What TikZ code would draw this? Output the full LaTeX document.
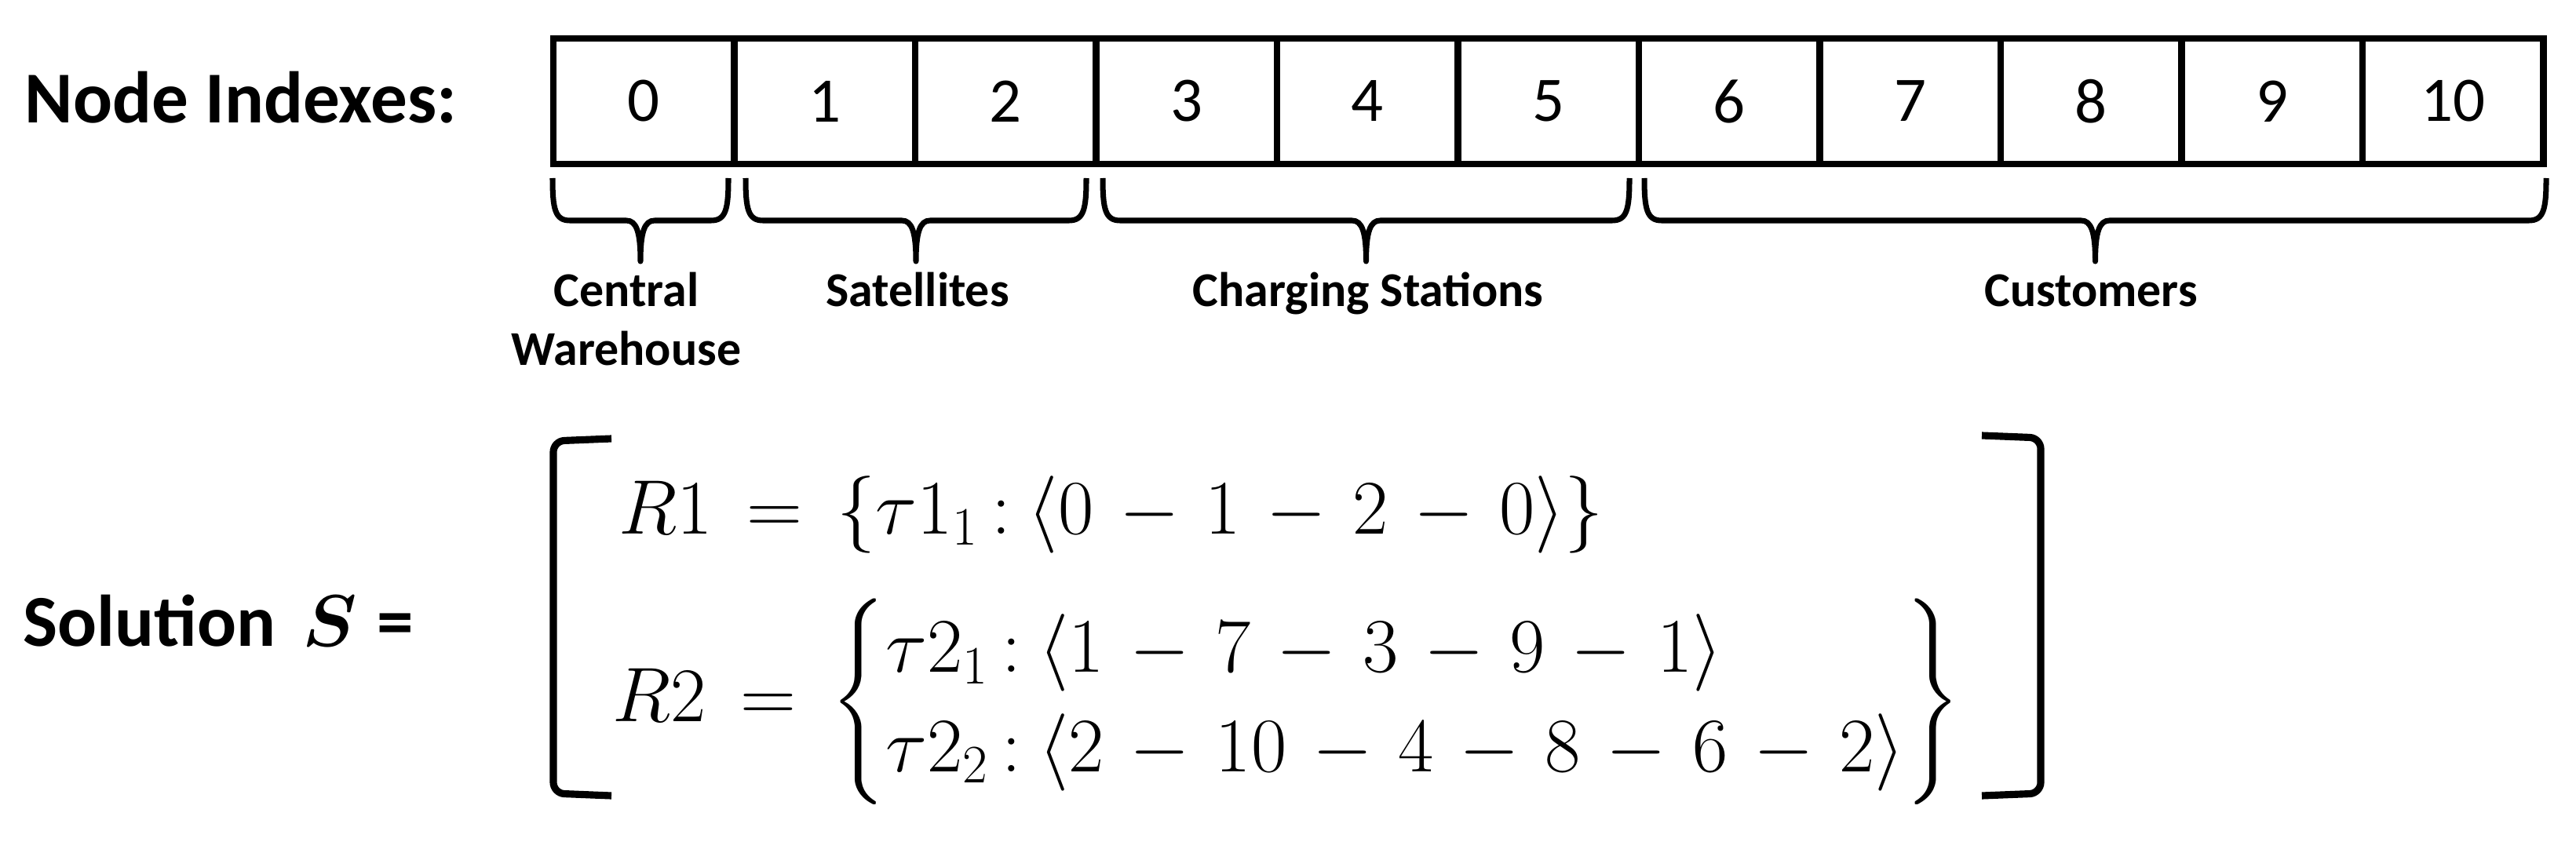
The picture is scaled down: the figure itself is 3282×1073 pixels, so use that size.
\documentclass[tikz,border=0pt]{standalone}
\usepackage{fix-cm}
\usepackage{amsmath}
\usepackage[no-math]{fontspec}
\setmainfont{Carlito}
\usetikzlibrary{positioning}

\begin{document}
\begin{tikzpicture}[
  x=0.01cm, y=-0.01cm,
  cell/.style={draw, line width=2.4pt, inner sep=0pt,
               minimum width=2.305cm, minimum height=1.6cm,
               font=\fontsize{23}{28}\selectfont},
  head/.style={inner sep=0pt, font=\bfseries\fontsize{26.5}{32}\selectfont},
  grp/.style={inner sep=0pt, align=center,
              font=\bfseries\fontsize{17.6}{21.3}\selectfont},
  route/.style={inner sep=0pt,
                font={\fontsize{28}{36}\selectfont\medmuskip=6mu\relax\thickmuskip=8mu\relax}},
  brc/.style={line width=2pt, line join=round},
  brk/.style={line width=2.6pt, rounded corners=4pt}
]
  \useasboundingbox (0,0) rectangle (3282,1073);

  %% Node index array
  \node[head, anchor=base west] (idx) at (31,157) {Node Indexes:};
  \foreach \i in {0,...,10}
    \node[cell] (c\i) at ({705+(\i+0.5)*230.5},129) {\i};

  %% Braces under the groups
  \foreach \xa/\xb in {704/928, 950/1384, 1405/2076, 2095/3244} {
    \pgfmathsetmacro\xm{(\xa+\xb)/2}
    \draw[brc] (\xa,227) .. controls (\xa,266) and (\xa+3,281) .. (\xa+22,281)
      -- (\xm-18,281) .. controls (\xm-5,281) and (\xm,296) .. (\xm,333)
      .. controls (\xm,296) and (\xm+5,281) .. (\xm+18,281)
      -- (\xb-22,281) .. controls (\xb-3,281) and (\xb,266) .. (\xb,227);
  }

  %% Group labels
  \node[grp, anchor=north] (wh)   at (798,346)  {Central\\Warehouse};
  \node[grp, anchor=base]  (sat)  at (1169,390) {Satellites};
  \node[grp, anchor=base]  (chg)  at (1743,390) {Charging Stations};
  \node[grp, anchor=base]  (cust) at (2664,390) {Customers};

  %% Solution
  \node[head, anchor=base west] (sol) at (29,823)
    {Solution\hspace{0.37em}$\boldsymbol{S}$\hspace{0.27em}=};
  \draw[brk] (779,559) -- (705,562) -- (705,1011) -- (779,1014);
  \draw[brk] (2525,555) -- (2600,558) -- (2600,1011) -- (2525,1014);

  \node[route, anchor=base west] (r1) at (788,680)
    {$R1=\{\tau1_1\mkern3mu{:}\mkern4mu\langle 0-1-2-0\rangle\}$};
  \node[route, anchor=base west] (r2) at (780,919)
    {$R2=\left\{\begin{array}{@{}l@{}}
       \tau2_1\mkern3mu{:}\mkern4mu\langle 1-7-3-9-1\rangle\\
       \tau2_2\mkern3mu{:}\mkern4mu\langle 2-10-4-8-6-2\rangle
     \end{array}\right\}$};

\end{tikzpicture}
\end{document}
